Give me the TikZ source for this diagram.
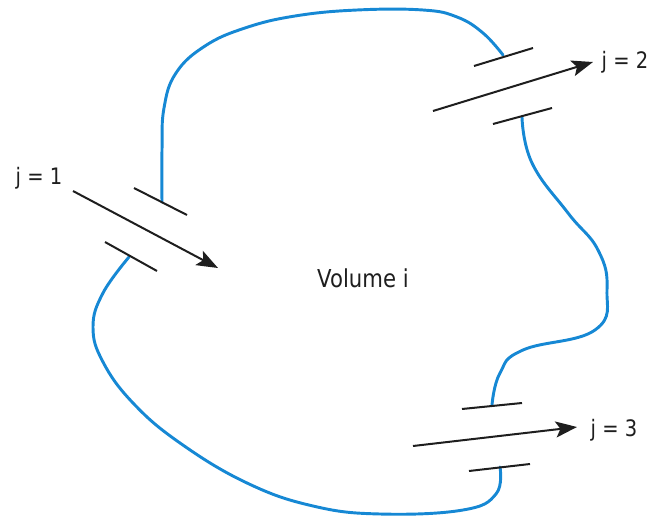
\documentclass[tikz,border=0pt]{standalone}
\usepackage{fontspec}
\setmainfont{DejaVu Sans}[FakeStretch=0.86]
\usetikzlibrary{arrows.meta}
\definecolor{wallblue}{RGB}{22,136,212}
\definecolor{ink}{RGB}{30,30,30}
\begin{document}
\begin{tikzpicture}[x=0.75pt,y=-0.75pt,
  wall/.style={wallblue, line width=2.2pt, line cap=round, line join=round},
  bar/.style={ink, line width=1.5pt},
  flow/.style={ink, line width=1.5pt, -{Stealth[length=16pt,width=12pt,inset=3.5pt]}},
  lbl/.style={font=\fontsize{17}{20}\selectfont, text=ink, inner sep=0pt},
  vol/.style={font=\fontsize{18.5}{22}\selectfont, text=ink, inner sep=0pt}]
\useasboundingbox (0,0) rectangle (654,518);

% port 1 (inlet)
\coordinate (u1a) at (134,188); \coordinate (u1b) at (187,215);
\coordinate (l1a) at (105,242); \coordinate (l1b) at (157,271);
\coordinate (f1s) at (73,191);  \coordinate (f1e) at (218,268);
% port 2
\coordinate (u2a) at (474,66);  \coordinate (u2b) at (533,48);
\coordinate (l2a) at (493,124); \coordinate (l2b) at (552,108);
\coordinate (f2s) at (433,111); \coordinate (f2e) at (593,62);
% port 3
\coordinate (u3a) at (462,409); \coordinate (u3b) at (522,403);
\coordinate (l3a) at (469,471); \coordinate (l3b) at (530,464);
\coordinate (f3s) at (413,446); \coordinate (f3e) at (577,427);

% control volume boundary
\draw[wall] plot[smooth, tension=0.7] coordinates {(162,202) (162,150) (164,108) (176,73) (205,46) (245,28) (295,16) (357,10) (423,10) (457,17) (483,33) (503,55)};
\draw[wall] plot[smooth, tension=0.75] coordinates {(522,117) (532,163) (568,213) (598,250) (607,290) (595,330) (523,350) (500,373) (492,405)};
\draw[wall] plot[smooth, tension=0.7] coordinates {(500,467) (496,494) (463,510) (380,514) (313,506) (247,483) (180,443) (133,403) (103,362) (93,327) (103,293) (129,257)};

% openings
\draw[bar] (u1a) -- (u1b); \draw[bar] (l1a) -- (l1b);
\draw[bar] (u2a) -- (u2b); \draw[bar] (l2a) -- (l2b);
\draw[bar] (u3a) -- (u3b); \draw[bar] (l3a) -- (l3b);

% flows
\draw[flow] (f1s) -- (f1e);
\draw[flow] (f2s) -- (f2e);
\draw[flow] (f3s) -- (f3e);

% labels
\node[lbl] (j1) at (39,178) {j = 1};
\node[lbl] (j2) at (625,62) {j = 2};
\node[lbl] (j3) at (614,430) {j = 3};
\node[vol] (vi) at (363,278) {Volume i};
\end{tikzpicture}
\end{document}
